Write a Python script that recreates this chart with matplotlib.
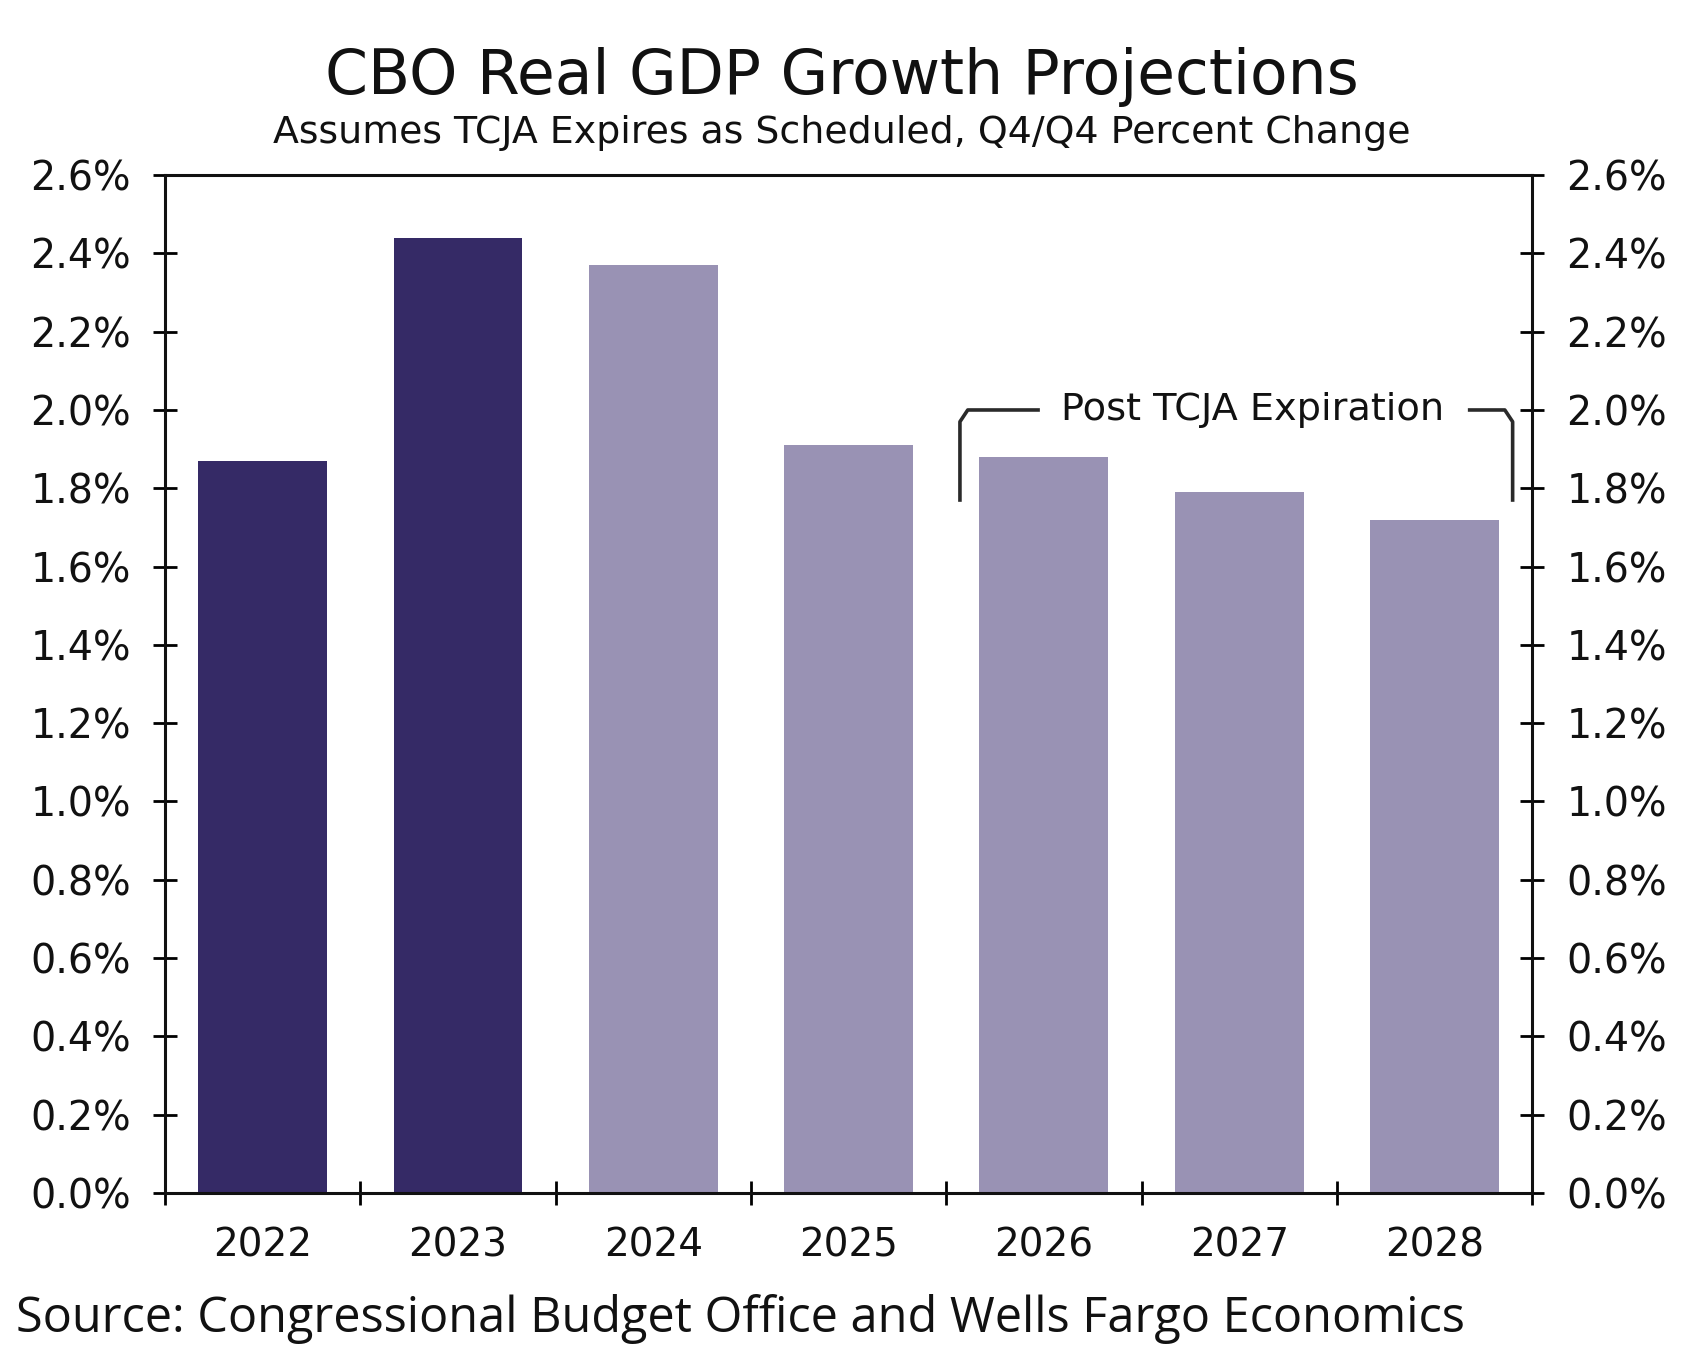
import matplotlib.pyplot as plt
from matplotlib.ticker import FixedLocator, FuncFormatter

# Data
years = ['2022', '2023', '2024', '2025', '2026', '2027', '2028']
growth = [1.87, 2.44, 2.37, 1.91, 1.88, 1.79, 1.72]
actual = [True, True, False, False, False, False, False]

dark = '#352a66'
light = '#9992b4'
colors = [dark if a else light for a in actual]

plt.rcParams['font.family'] = 'DejaVu Sans'

fig = plt.figure(figsize=(16.93, 13.68), dpi=100)
ax = fig.add_axes([0.0975, 0.128, 0.8075, 0.744])

x = range(len(years))
ax.bar(x, growth, width=0.66, color=colors, zorder=2)

ax.set_xlim(-0.5, len(years) - 0.5)
ax.set_ylim(0, 2.6)

# y axis on both sides
yt = [i * 0.2 for i in range(14)]
ax.set_yticks(yt)
ax.yaxis.set_major_formatter(FuncFormatter(lambda v, p: f'{v:.1f}%'))
ax.tick_params(axis='y', which='major', direction='inout', length=17, width=2,
               labelsize=28.5, pad=16, left=True, right=True,
               labelleft=True, labelright=True, labelcolor='#111111')

# x ticks at category boundaries, labels at centres
ax.xaxis.set_major_locator(FixedLocator([i - 0.5 for i in range(len(years) + 1)]))
ax.xaxis.set_major_formatter(FuncFormatter(lambda v, p: ''))
ax.xaxis.set_minor_locator(FixedLocator(list(x)))
ax.set_xticklabels(years, minor=True)
ax.tick_params(axis='x', which='major', direction='inout', length=17, width=2)
ax.tick_params(axis='x', which='minor', length=0, labelsize=28, pad=24,
               labelcolor='#111111')

for s in ax.spines.values():
    s.set_linewidth(2.2)
    s.set_color('#111111')

# bracket over post-expiration years
bl, br = 3.57, 6.40
ytop, ybot = 2.0, 1.77
ax.plot([bl, bl, bl + 0.04, 3.97], [ybot, ytop - 0.03, ytop, ytop],
        color='#2a2a2a', lw=2.6, clip_on=False, zorder=3)
ax.plot([6.18, br - 0.04, br, br], [ytop, ytop, ytop - 0.03, ybot],
        color='#2a2a2a', lw=2.6, clip_on=False, zorder=3)
ax.text(5.07, ytop, 'Post TCJA Expiration', ha='center', va='center',
        fontsize=27.5, color='#111111')

fig.text(0.497, 0.944, 'CBO Real GDP Growth Projections', ha='center', va='center',
         fontsize=44.3, color='#111111')
fig.text(0.497, 0.903, 'Assumes TCJA Expires as Scheduled, Q4/Q4 Percent Change',
         ha='center', va='center', fontsize=27.3, color='#111111')
fig.text(0.0095, 0.036, 'Source: Congressional Budget Office and Wells Fargo Economics',
         ha='left', va='center', fontsize=35, color='#111111', family='Open Sans')

fig.savefig('out.png', dpi=100)
